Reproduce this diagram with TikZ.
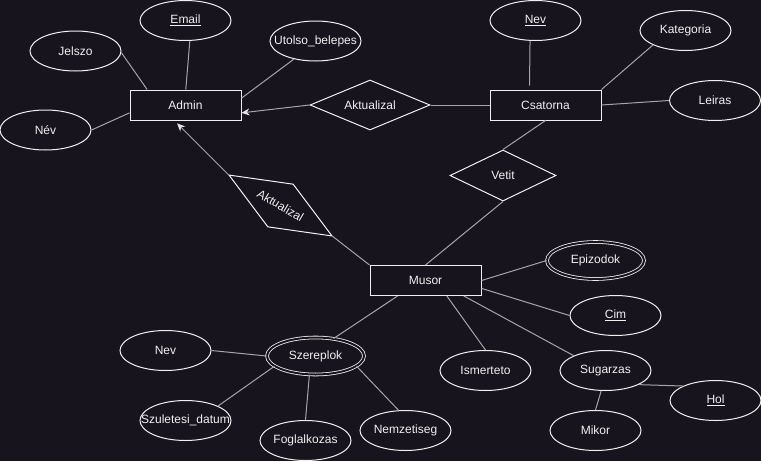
\documentclass[tikz,border=0pt]{standalone}
\usepackage{fontspec}
\setmainfont{Liberation Sans}
\usetikzlibrary{shapes.geometric,arrows.meta}
\definecolor{bg}{RGB}{24,20,29}
\definecolor{ink}{RGB}{240,240,240}
\definecolor{wire}{RGB}{165,165,165}
\begin{document}
\begin{tikzpicture}[x=1pt,y=-1pt,
  every node/.style={font=\fontsize{12}{14}\selectfont, text=ink},
  shapebase/.style={draw=ink, fill=bg, line width=1pt, inner sep=0pt},
  entity/.style={shapebase, rectangle, minimum width=111pt, minimum height=30pt},
  % negative x separation keeps long labels from widening the ellipse
  attr/.style={shapebase, ellipse, minimum width=91pt, minimum height=40pt, inner xsep=-14pt},
  multiattr/.style={shapebase, ellipse, minimum width=97pt, minimum height=37pt,
    line width=0.8pt, double=bg, double distance=2pt},
  relation/.style={shapebase, diamond, shape aspect=2.4, minimum width=120pt, minimum height=50pt},
  link/.style={draw=wire, line width=1pt},
  tolink/.style={link, -{Stealth[length=8pt,width=7pt,inset=2.5pt,color=ink!85!wire]}}
]
% canvas
\fill[bg] (0,0) rectangle (761,461);
\useasboundingbox (0,0) rectangle (761,461);

% entities
\node[entity] (admin)    at (185.5,105)   {Admin};
\node[entity] (csatorna) at (545.5,105)   {Csatorna};
\node[entity] (musor)    at (425.5,280.5) {Musor};

% relationships
\node[relation] (akt1) at (370,105) {Aktualizal};
\node[relation, rotate=-30.6] (akt2) at (280.5,205.5) {Aktualizal};
\node[relation, minimum width=106pt, minimum height=51pt] (vetit) at (503,175.5) {Vetit};

% Admin attributes
\node[attr] (email)  at (185.5,20.5) {\underline{Email}};
\node[attr] (jelszo) at (75.5,51)    {Jelszo};
\node[attr] (utolso) at (315.5,41)   {Utolso\_belepes};
\node[attr] (nev1)   at (45.5,130)   {Név};

% Csatorna attributes
\node[attr] (nevcs)     at (535.5,20.5) {\underline{Nev}};
\node[attr] (kategoria) at (685.5,30.5) {Kategoria};
\node[attr] (leiras)    at (715,100.5)  {Leiras};

% Musor attributes
\node[multiattr] (epizodok) at (595.5,260.5) {Epizodok};
\node[attr] (cim)       at (615.5,315.5) {\underline{Cim}};
\node[attr] (ismerteto) at (485.5,370.5) {Ismerteto};
\node[attr] (sugarzas)  at (605.5,370.5) {Sugarzas};
\node[attr] (hol)       at (715.5,400.5) {\underline{Hol}};
\node[attr] (mikor)     at (595.5,430.5) {Mikor};

% Szereplok and its parts
\node[multiattr] (szereplok) at (315.5,356) {Szereplok};
\node[attr] (nevsz)       at (165.5,350.5) {Nev};
\node[attr] (szuletesi)   at (185.5,420.5) {Szuletesi\_datum};
\node[attr] (foglalkozas) at (305.5,440.5) {Foglalkozas};
\node[attr] (nemzetiseg)  at (405.5,430.5) {Nemzetiseg};

% connectors: Admin
\draw[link] (jelszo.-2) -- (admin.158);
\draw[link] (email.-78) -- (admin.89);
\draw[link] (utolso.220) -- (admin.7);
\draw[link] (nev1.east) -- (admin.188);
\draw[tolink] (akt1.west) -- (admin.-8);
\draw[tolink, shorten >=4pt] (akt2.west) -- (admin.234);

% connectors: Csatorna
\draw[link] (akt1.east) -- (csatorna.west);
\draw[link, shorten >=4pt] (nevcs.-105) -- (csatorna.136);
\draw[link] (kategoria.204) -- (csatorna.north east);
\draw[link] (leiras.west) -- (csatorna.east);
\draw[link] (csatorna.south) -- (vetit.north);

% connectors: Musor
\draw[link] (vetit.south) -- (musor.north);
\draw[link] (akt2.east) -- (musor.north west);
\draw[link] (musor.east) -- (epizodok.west);
\draw[link] (musor.-8) -- (cim.west);
\draw[link] (musor.-36) -- (ismerteto.north);
\draw[link] (musor.-22) -- (sugarzas.155);
\draw[link] (musor.209) -- (szereplok.44);
\draw[link] (sugarzas.-23) -- (hol.156);
\draw[link] (sugarzas.-102) -- (mikor.north);

% connectors: Szereplok
\draw[link] (nevsz.east) -- (szereplok.west);
\draw[link] (szuletesi.24) -- (szereplok.194);
\draw[link] (foglalkozas.north) -- (szereplok.-108);
\draw[link] (nemzetiseg.109) -- (szereplok.-14);
\end{tikzpicture}
\end{document}
